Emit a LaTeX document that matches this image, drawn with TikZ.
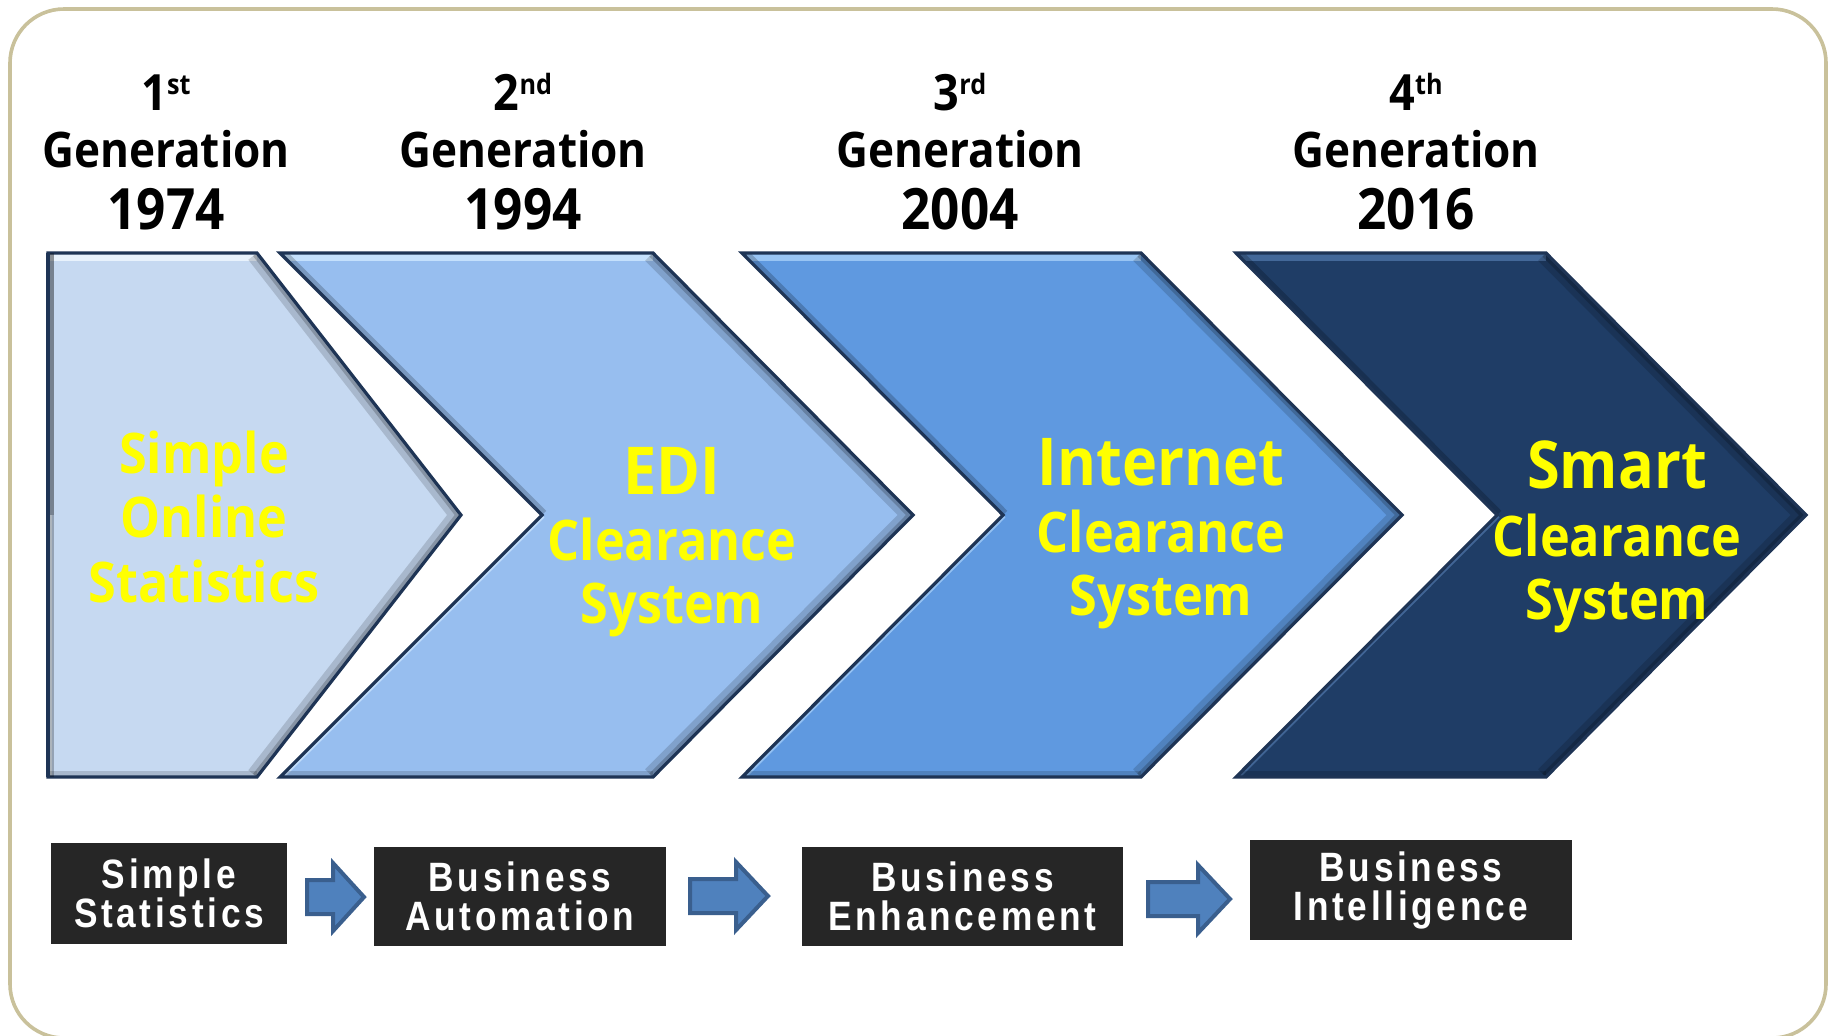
\documentclass[tikz,border=0pt]{standalone}
\usepackage{fontspec}
\newfontfamily\hfont[FakeStretch=0.9]{Open Sans}
\newfontfamily\boxfont[LetterSpace=9,FakeStretch=0.86]{Liberation Sans}
\definecolor{framec}{HTML}{C9C19B}
\definecolor{cha}{HTML}{C6D9F1}
\definecolor{chb}{HTML}{97BEEF}
\definecolor{chc}{HTML}{5F99E0}
\definecolor{chd}{HTML}{1F3D66}
\definecolor{hla}{HTML}{EEF7FF}
\definecolor{hlb}{HTML}{CDE6FF}
\definecolor{hlc}{HTML}{A2CCF7}
\definecolor{hld}{HTML}{4A70A2}
\definecolor{edgec}{HTML}{1E3455}
\definecolor{boxc}{HTML}{262626}
\definecolor{arrf}{HTML}{4F81BD}
\definecolor{arre}{HTML}{3A5F8E}
\definecolor{txty}{HTML}{FFFF00}
\tikzset{
  hdrnum/.style={anchor=base, inner sep=0pt, font=\hfont\bfseries\fontsize{25}{25}\selectfont},
  hdr/.style={anchor=base, inner sep=0pt, font=\hfont\bfseries\fontsize{24.5}{24.5}\selectfont},
  hdryr/.style={anchor=base, inner sep=0pt, font=\hfont\bfseries\fontsize{28.5}{28.5}\selectfont},
  ytxt/.style={anchor=base, inner sep=0pt, text=txty, font=\hfont\bfseries\fontsize{28}{28}\selectfont},
  ybig/.style={anchor=base, inner sep=0pt, text=txty, font=\hfont\bfseries\fontsize{33}{33}\selectfont},
  blackbox/.style={rectangle, fill=boxc, text=white, align=center, inner sep=0pt,
    font=\boxfont\bfseries\fontsize{20.5}{19.5}\selectfont},
  arrowsty/.style={fill=arrf, draw=arre, line width=2pt, line join=miter},
}
\newcommand\chevronshape[6]{%
  \fill[#5] (#1,253) -- (#3,253) -- (#4,515) -- (#3,777) -- (#1,777) -- ({#1+#2},515) -- cycle;
  \begin{scope}
    \clip (#1,253) -- (#3,253) -- (#4,515) -- (#3,777) -- (#1,777) -- ({#1+#2},515) -- cycle;
    \draw[#6, opacity=.85, line width=8pt] (#1,253) -- (#3,253);
    \draw[#6, opacity=.8, line width=3.5pt] (#1,777) -- ({#1+#2},515);
    \draw[black, opacity=.15, line width=11pt] (#3,253) -- (#4,515) -- (#3,777);
    \draw[black, opacity=.2, line width=5pt] (#3,253) -- (#4,515) -- (#3,777);
    \draw[black, opacity=.15, line width=6pt] (#1,777) -- (#3,777);
    \draw[black, opacity=.2, line width=6pt] (#1,253) -- ({#1+#2},515);
  \end{scope}
  \draw[edgec, line width=1.6pt, line join=miter] (#1,253) -- (#3,253) -- (#4,515) -- (#3,777) -- (#1,777) -- ({#1+#2},515) -- cycle;
}
\newcommand\blockarrow[4]{%
  \draw[arrowsty] (#1,{#4-17}) -- (#2,{#4-17}) -- (#2,{#4-34}) -- (#3,#4) -- (#2,{#4+34}) -- (#2,{#4+17}) -- (#1,{#4+17}) -- cycle;
}
\begin{document}
\begin{tikzpicture}[x=0.5pt, y=-0.5pt]
  \useasboundingbox (0,0) rectangle (1829,1035);
  \fill[white] (0,0) rectangle (1829,1035);
  % outer frame
  \draw[framec, line width=1.8pt, rounded corners=27pt] (10,9) rectangle (1826,1038);

  % headers
  \foreach \i/\x/\sfx/\yr in {1/166/st/1974, 2/523/nd/1994, 3/960/rd/2004, 4/1416/th/2016} {
    \node[hdrnum] (g\i a) at (\x,110) {\i\raisebox{8pt}{\fontsize{14}{14}\selectfont\sfx}};
    \node[hdr] (g\i b) at (\x,167) {Generation};
    \node[hdryr] (g\i c) at (\x,229) {\yr};
  }

  % chevrons
  \chevronshape{48}{0}{257}{461}{cha}{hla}
  \begin{scope}
    \clip (48,253) rectangle (70,777);
    \draw[black, opacity=.25, line width=6pt] (48,253) -- (48,777);
  \end{scope}
  \draw[edgec, line width=1.6pt] (48,253) -- (48,777);
  \chevronshape{280}{262}{653}{913}{chb}{hlb}
  \chevronshape{742}{261}{1141}{1402}{chc}{hlc}
  \chevronshape{1236}{261}{1546}{1806}{chd}{hld}

  % chevron texts
  \node[ytxt] (t1a) at (204,473) {Simple};
  \node[ytxt] (t1b) at (204,537) {Online};
  \node[ytxt] (t1c) at (204,602) {Statistics};

  \node[ybig] (t2a) at (672,494) {EDI};
  \node[ytxt] (t2b) at (672,560) {Clearance};
  \node[ytxt] (t2c) at (672,623) {System};

  \node[ybig] (t3a) at (1161,485) {Internet};
  \node[ytxt] (t3b) at (1161,552) {Clearance};
  \node[ytxt] (t3c) at (1161,615) {System};

  \node[ybig] (t4a) at (1617,488) {Smart};
  \node[ytxt] (t4b) at (1617,556) {Clearance};
  \node[ytxt] (t4c) at (1617,619) {System};

  % bottom boxes
  \node[blackbox, minimum width=118pt, minimum height=50.5pt] (b1) at (169,893.5) {Simple\\Statistics};
  \node[blackbox, minimum width=146pt, minimum height=49.5pt] (b2) at (520,896.5) {Business\\Automation};
  \node[blackbox, minimum width=160.5pt, minimum height=49.5pt] (b3) at (962.5,896.5) {Business\\Enhancement};
  \node[blackbox, minimum width=161pt, minimum height=50pt] (b4) at (1411,890) {Business\\Intelligence};

  % block arrows
  \blockarrow{307}{333}{364}{897}
  \blockarrow{690}{736}{768}{896}
  \blockarrow{1148}{1198}{1230}{899}
\end{tikzpicture}
\end{document}
